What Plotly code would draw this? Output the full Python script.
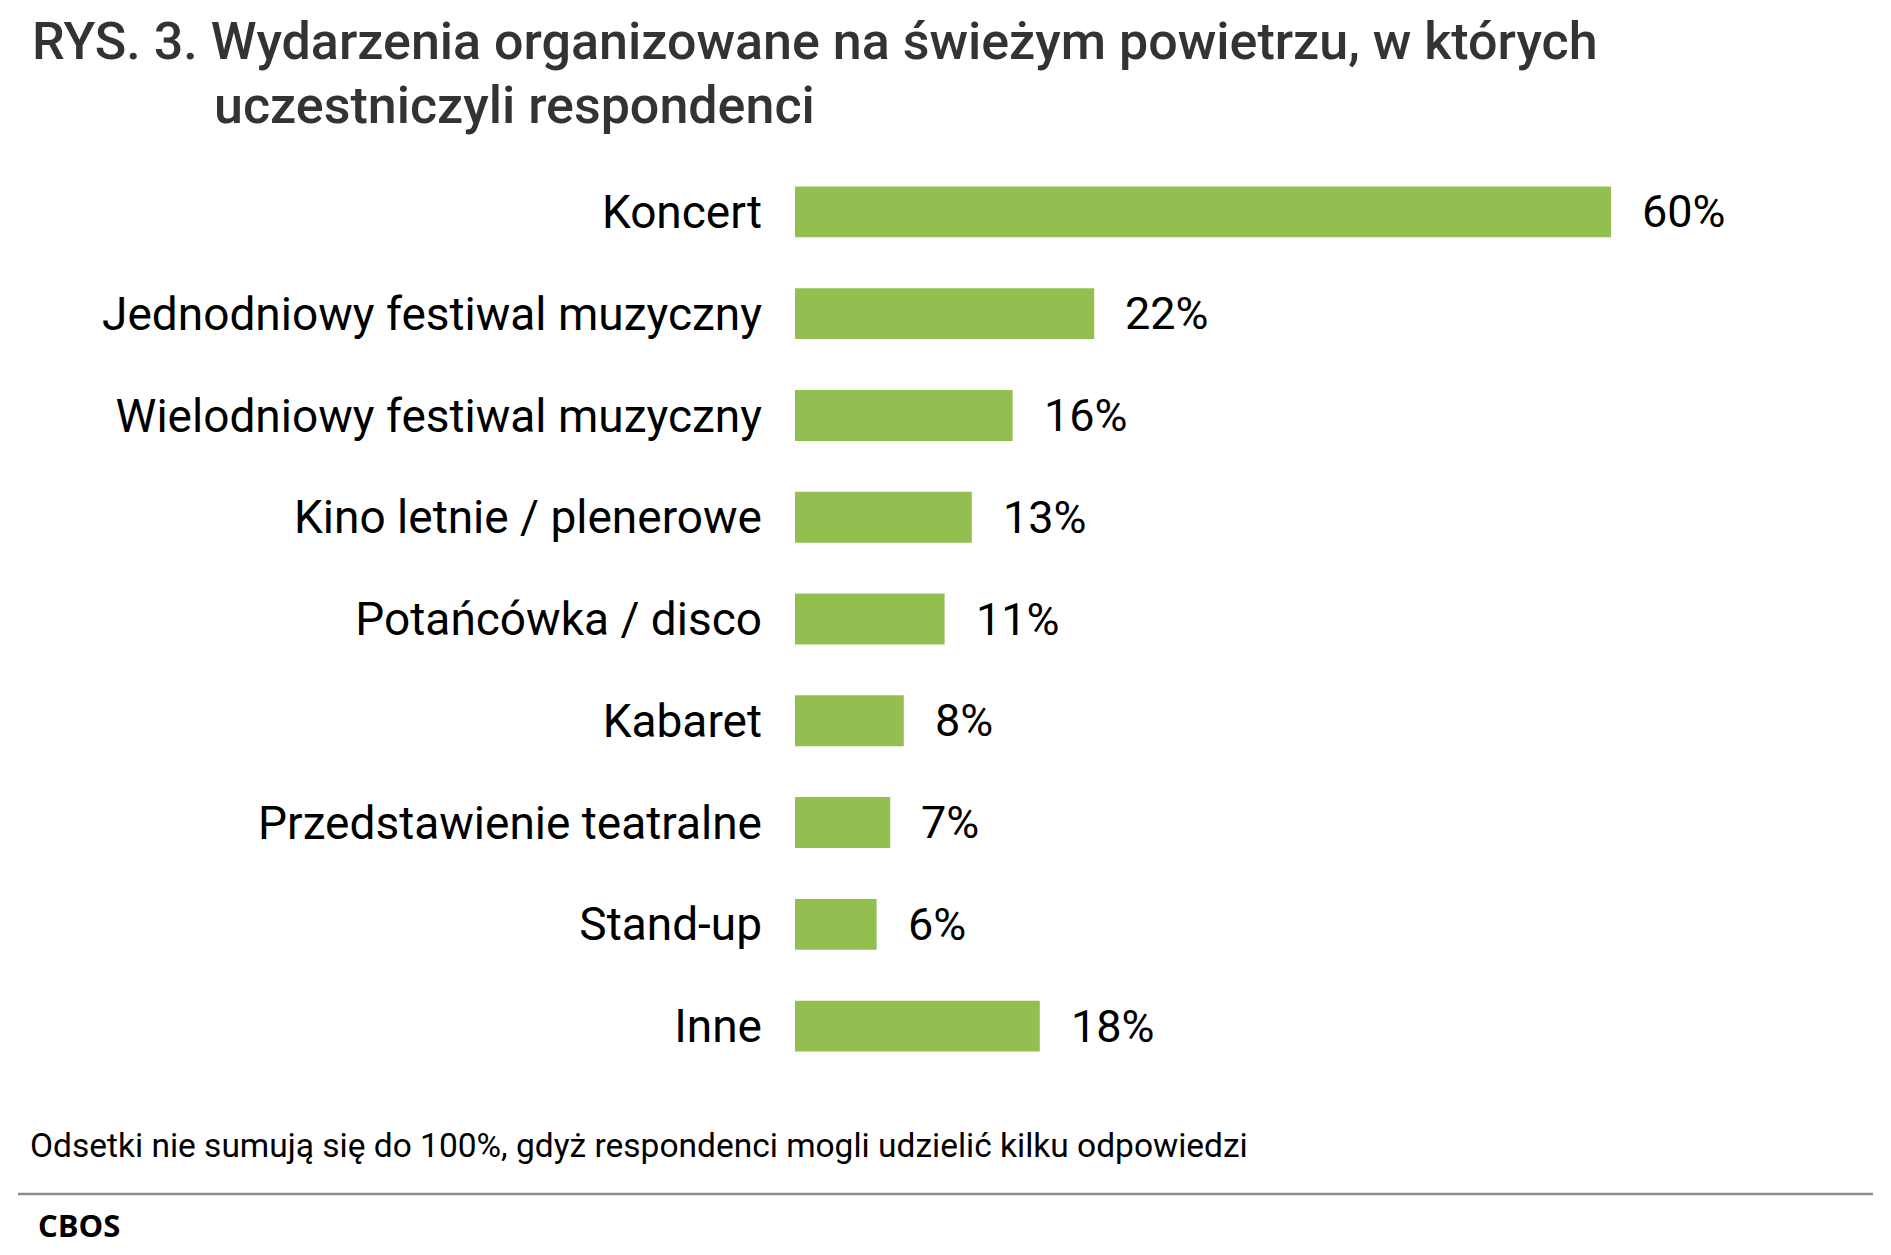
import plotly.graph_objects as go

categories = ["Koncert", "Jednodniowy festiwal muzyczny", "Wielodniowy festiwal muzyczny",
              "Kino letnie / plenerowe", "Potańcówka / disco", "Kabaret",
              "Przedstawienie teatralne", "Stand-up", "Inne"]
values = [60, 22, 16, 13, 11, 8, 7, 6, 18]

title_line1 = "RYS. 3. Wydarzenia organizowane na świeżym powietrzu, w których"
title_line2 = "uczestniczyli respondenci"
footnote = "Odsetki nie sumują się do 100%, gdyż respondenci mogli udzielić kilku odpowiedzi"
source = "CBOS"

# page is 1891x1255, the browser puts the plot div 8px in from the corner
OFF = 8
W, H = 1891 - 2 * OFF, 1255 - 2 * OFF
ML, MR, MT, MB = 787, 136, 153, 170
PW, PH = W - ML - MR, H - MT - MB


def px(x):
    # page pixel -> paper x
    return (x - OFF - ML) / PW


def py(y):
    # page pixel -> paper y
    return (H - MB - (y - OFF)) / PH


fig = go.Figure(go.Bar(
    x=values, y=categories, orientation="h",
    marker=dict(color="#93BF51", line=dict(width=0)),
    width=0.5, hoverinfo="skip",
))

for c, v in zip(categories, values):
    fig.add_annotation(x=v, y=c, text=f"{v}%", showarrow=False, xanchor="left",
                       xshift=29, font=dict(family="Roboto", size=45, color="#000"))

fig.add_annotation(xref="paper", yref="paper", x=px(30), y=py(42), text=title_line1,
                   showarrow=False, xanchor="left", yanchor="middle",
                   font=dict(family="Roboto", size=52, color="#333333", weight=500))
fig.add_annotation(xref="paper", yref="paper", x=px(212), y=py(105), text=title_line2,
                   showarrow=False, xanchor="left", yanchor="middle",
                   font=dict(family="Roboto", size=52, color="#333333", weight=500))
fig.add_annotation(xref="paper", yref="paper", x=px(28), y=py(1145), text=footnote,
                   showarrow=False, xanchor="left", yanchor="middle",
                   font=dict(family="Roboto", size=33.5, color="#000"))
fig.add_annotation(xref="paper", yref="paper", x=px(36), y=py(1225), text="<b>" + source + "</b>",
                   showarrow=False, xanchor="left", yanchor="middle",
                   font=dict(family="Open Sans", size=31, color="#000"))
fig.add_shape(type="line", xref="paper", yref="paper", x0=px(18), x1=px(1873),
              y0=py(1194), y1=py(1194), line=dict(color="#8c8c8c", width=2.5))

fig.update_layout(
    width=W, height=H,
    margin=dict(l=ML, r=MR, t=MT, b=MB),
    plot_bgcolor="white", paper_bgcolor="white",
    showlegend=False,
    xaxis=dict(range=[0, 70], visible=False),
    yaxis=dict(autorange="reversed", showgrid=False, showline=False, ticks="",
               ticklabelstandoff=32,
               tickfont=dict(family="Roboto", size=46, color="#000")),
)

fig.write_html("out.html")
